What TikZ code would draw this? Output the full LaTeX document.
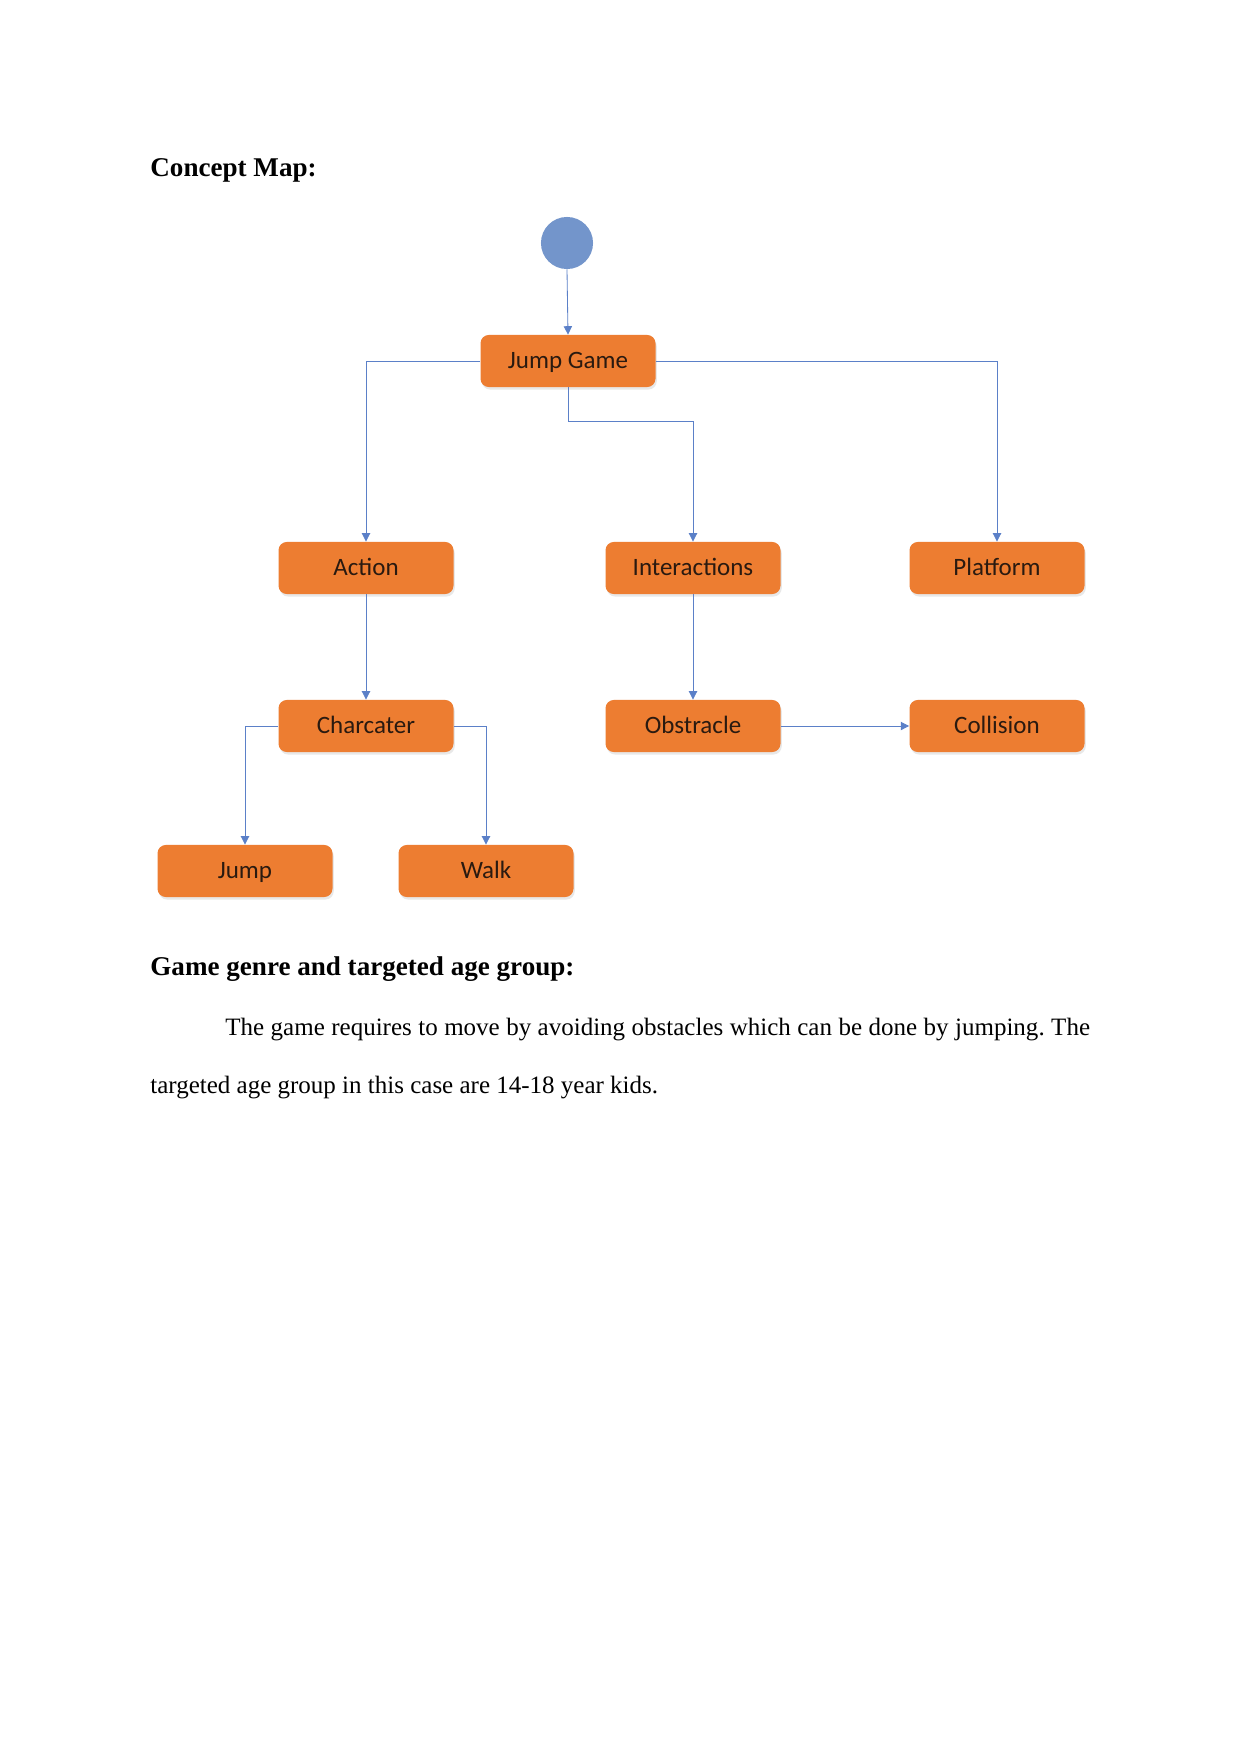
\documentclass[tikz,border=0pt]{standalone}
\usepackage{fontspec}
\setmainfont{Liberation Serif}
\newfontfamily\boxfont{Carlito}
\usetikzlibrary{arrows.meta,shadows}
\definecolor{boxorange}{HTML}{ED7D31}
\definecolor{lineblue}{HTML}{5B80C8}
\definecolor{circblue}{HTML}{7395CB}
\definecolor{boxtext}{HTML}{2A1A10}
\frenchspacing
\tikzset{
  conceptbox/.style={draw=none, fill=boxorange, rounded corners=4pt,
    minimum width=84pt, minimum height=25pt, inner sep=0pt,
    text height=9.3pt, text depth=1.7pt,
    font=\boxfont\fontsize{12}{14}\selectfont, text=boxtext,
    drop shadow={opacity=0.18, shadow xshift=0.6pt, shadow yshift=-1.2pt}},
  arr/.style={draw=lineblue, line width=0.4pt, -{Triangle[length=4pt,width=4pt]}},
  doctext/.style={anchor=base west, inner sep=0pt, font=\fontsize{12}{14}\selectfont},
  headtext/.style={anchor=base west, inner sep=0pt, font=\fontsize{13}{15}\selectfont\bfseries}
}
\begin{document}
\begin{tikzpicture}[x=0.48pt,y=-0.48pt]
\useasboundingbox (0,0) rectangle (1241,1754);
\fill[white] (0,0) rectangle (1241,1754);

\node[headtext] (title) at (150,176) {Concept Map:};

\node[circle, fill=circblue, minimum size=25pt, inner sep=0pt] (start) at (567,243) {};
\node[conceptbox] (jg) at (568,361) {Jump Game};
\node[conceptbox] (act) at (366,568) {Action};
\node[conceptbox] (int) at (693,568) {Interactions};
\node[conceptbox] (plat) at (997,568) {Platform};
\node[conceptbox] (ch) at (366,726) {Charcater};
\node[conceptbox] (obs) at (693,726) {Obstracle};
\node[conceptbox] (col) at (997,726) {Collision};
\node[conceptbox] (jump) at (245,871) {Jump};
\node[conceptbox] (walk) at (486,871) {Walk};

\draw[arr] (start.south) -- (jg.north);
\draw[arr] (jg.west) -| (act.north);
\draw[arr] (jg.east) -| (plat.north);
\draw[arr] (jg.south) -- ++(0,34) -| (int.north);
\draw[arr] (act.south) -- (ch.north);
\draw[arr] (int.south) -- (obs.north);
\draw[arr] (obs.east) -- (col.west);
\draw[arr] (ch.west) -| (jump.north);
\draw[arr] (ch.east) -| (walk.north);

\node[headtext] (head2) at (150,975) {Game genre and targeted age group:};
\node[doctext] (para1) at (225,1035) {\makebox[415pt][s]{The game requires to move by avoiding obstacles which can be done by jumping. The}};
\node[doctext] (para2) at (150,1093) {targeted age group in this case are 14-18 year kids.};
\end{tikzpicture}
\end{document}
